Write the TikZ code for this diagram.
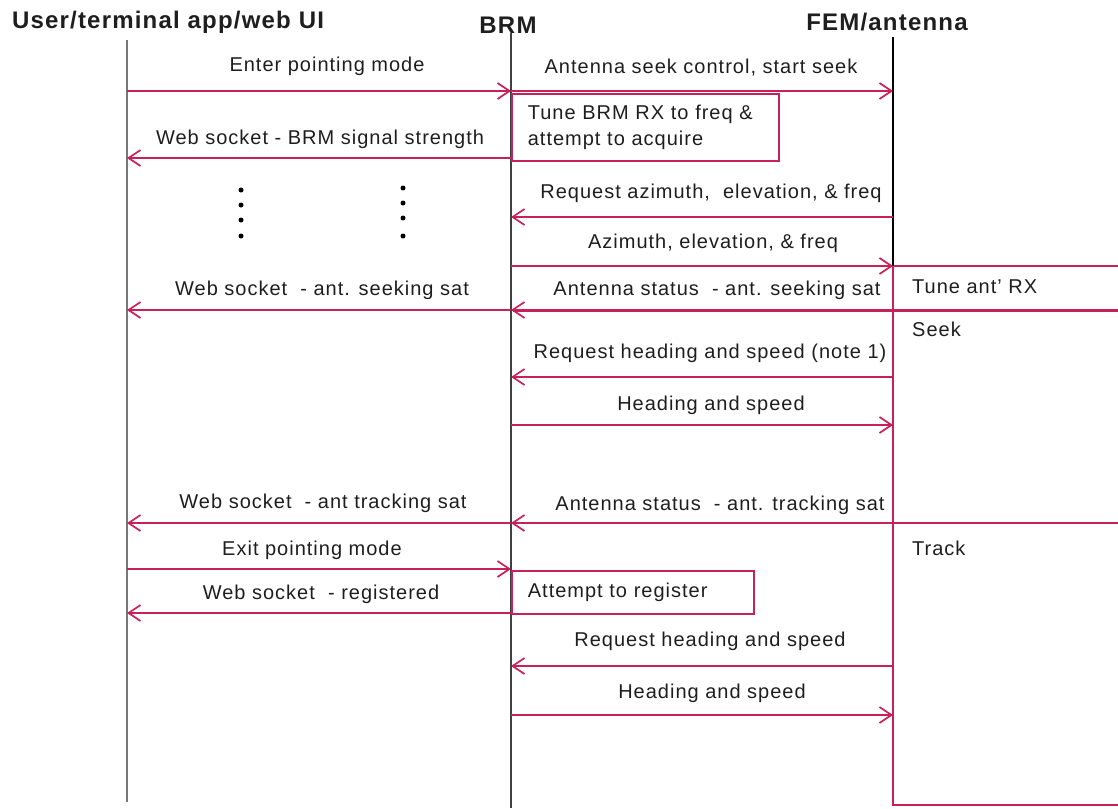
\documentclass[tikz,border=0pt]{standalone}
\usepackage{fontspec}
\setmainfont{Liberation Sans}[LetterSpace=5]
\usetikzlibrary{arrows.meta}

\definecolor{msg}{RGB}{200,32,88}
\definecolor{lifegray}{RGB}{120,120,120}
\definecolor{txt}{RGB}{30,30,30}

\tikzset{
  msgline/.style={draw=msg, line width=1.7pt,
    -{Straight Barb[length=12pt,width=16pt,line width=1.7pt]}},
  lbl/.style={font=\fontsize{20}{26}\selectfont, text=txt, inner sep=0pt},
  head/.style={font=\fontsize{24}{28}\selectfont\bfseries, text=txt, inner sep=0pt},
  procbox/.style={draw=msg, line width=1.7pt, anchor=north west, inner sep=0pt,
    font=\fontsize{20}{26}\selectfont, text=txt, align=left},
  statebox/.style={draw=msg, line width=1.7pt},
  dot/.style={circle, fill=black, inner sep=0pt, minimum size=5pt},
}

\begin{document}
\begin{tikzpicture}[x=1pt, y=-1pt]
\useasboundingbox (0,0) rectangle (1118,808);

% participants
\node[head] (hUser) at (168,22) {User/terminal app/web UI};
\node[head] (hBRM) at (508,25) {BRM};
\node[head] (hFEM) at (887,22) {FEM/antenna};

% state boxes on the antenna side
\draw[statebox] (893,266) rectangle (1125,310);
\draw[statebox] (893,310) rectangle (1125,523);
\draw[statebox] (893,523) rectangle (1125,805);
\draw[msg, line width=3pt] (893,310) -- (1125,310);
\node[lbl, anchor=west] (sTune) at (912,287) {Tune ant' RX};
\node[lbl, anchor=west] (sSeek) at (912,329) {Seek};
\node[lbl, anchor=west] (sTrack) at (912,548) {Track};

% lifelines
\coordinate (uTop) at (127,40);  \coordinate (uBot) at (127,802);
\coordinate (bTop) at (511,33);  \coordinate (bBot) at (511,808);
\coordinate (fTop) at (893,37);  \coordinate (fBot) at (893,266);
\draw[lifegray, line width=2.2pt] (uTop) -- (uBot);
\draw[black!75, line width=2.2pt] (bTop) -- (bBot);
\draw[black, line width=1.8pt] (fTop) -- (fBot);

% local processing boxes
\node[procbox, minimum width=267pt, minimum height=67pt, text width=235pt]
  (pTune) at (511,93) {Tune BRM RX to freq \&\\attempt to acquire};
\node[procbox, minimum width=242pt, minimum height=43pt, text width=210pt]
  (pReg) at (511,570) {Attempt to register};

% message end points
\foreach \n/\y in {1/91,2/158,3/217,4/266,5/310,6/377,7/425,8/523,9/569,10/613,11/666,12/715}{
  \coordinate (u\n) at (127,\y);
  \coordinate (b\n) at (511,\y);
  \coordinate (f\n) at (893,\y);
}

% messages
\draw[msgline] (u1) -- (b1);
\node[lbl] (m1) at (327,66) {Enter pointing mode};
\draw[msgline] (b1) -- (f1);
\node[lbl] (m2) at (701,68) {Antenna seek control, start seek};
\draw[msgline] (b2) -- (u2);
\node[lbl] (m3) at (320,139) {Web socket - BRM signal strength};
\draw[msgline] (f3) -- (b3);
\node[lbl] (m4) at (711,193) {Request azimuth,\ \ elevation, \& freq};
\draw[msgline] (b4) -- (f4);
\node[lbl] (m5) at (713,243) {Azimuth, elevation, \& freq};
\draw[msgline, line width=3pt] (f5) -- (b5);
\node[lbl] (m6) at (717,290) {Antenna status\ \ - ant. seeking sat};
\draw[msgline] (b5) -- (u5);
\node[lbl] (m7) at (322,290) {Web socket\ \ - ant. seeking sat};
\draw[msgline] (f6) -- (b6);
\node[lbl] (m8) at (710,353) {Request heading and speed (note 1)};
\draw[msgline] (b7) -- (f7);
\node[lbl] (m9) at (711,405) {Heading and speed};
\draw[msgline] (f8) -- (b8);
\node[lbl] (m10) at (720,505) {Antenna status\ \ - ant. tracking sat};
\draw[msgline] (b8) -- (u8);
\node[lbl] (m11) at (323,503) {Web socket\ \ - ant tracking sat};
\draw[msgline] (u9) -- (b9);
\node[lbl] (m12) at (312,550) {Exit pointing mode};
\draw[msgline] (b10) -- (u10);
\node[lbl] (m13) at (321,594) {Web socket\ \ - registered};
\draw[msgline] (f11) -- (b11);
\node[lbl] (m14) at (710,641) {Request heading and speed};
\draw[msgline] (b12) -- (f12);
\node[lbl] (m15) at (712,693) {Heading and speed};

% continuation marks
\foreach \i/\y in {1/190,2/205,3/220,4/236}{
  \node[dot] (dl\i) at (241,\y) {};
}
\foreach \i/\y in {1/188,2/203,3/218,4/236}{
  \node[dot] (dr\i) at (403,\y) {};
}
\end{tikzpicture}
\end{document}
